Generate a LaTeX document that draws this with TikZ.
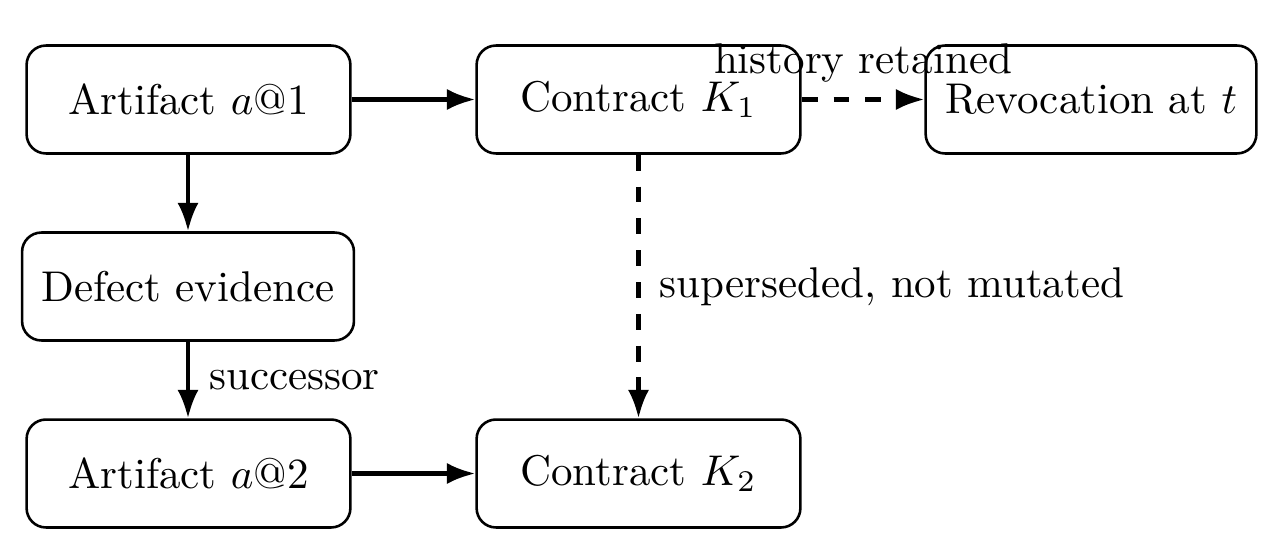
\documentclass[tikz,border=0pt]{standalone}
\usetikzlibrary{arrows.meta}
\tikzset{
  box/.style={draw, line width=0.6pt, rounded corners=4.5pt, minimum width=75.3pt, minimum height=25.1pt, inner xsep=4.5pt, align=center},
  conn/.style={line width=0.95pt, -{Latex[length=6.6pt, width=4.9pt]}},
  dsh/.style={dash pattern=on 3.7pt off 3.7pt},
  lbl/.style={inner sep=4.5pt}
}
\begin{document}
\begin{tikzpicture}[x=0.23256pt, y=-0.23256pt]
\useasboundingbox (0,0) rectangle (1280,551);
\node[box] (a1)  at (188.5,99.5) {Artifact $a$@1};
\node[box] (k1)  at (638.5,99.5) {Contract $K_1$};
\node[box] (rev) at (1091,99.5) {Revocation at $t$};
\node[box] (def) at (188,286.5) {Defect evidence};
\node[box] (a2)  at (188.5,473.5) {Artifact $a$@2};
\node[box] (k2)  at (638.5,473.5) {Contract $K_2$};
\draw[conn] (a1) -- (k1);
\draw[conn, dsh] (k1) -- node[lbl, above, yshift=-1pt] {history retained} (rev);
\draw[conn] (a1.south -| def.north) -- (def.north);
\draw[conn] (def) -- node[lbl, right] {successor} (a2.north -| def.south);
\draw[conn, dsh] (k1) -- node[lbl, right] {superseded, not mutated} (k2);
\draw[conn] (a2) -- (k2);
\end{tikzpicture}
\end{document}
